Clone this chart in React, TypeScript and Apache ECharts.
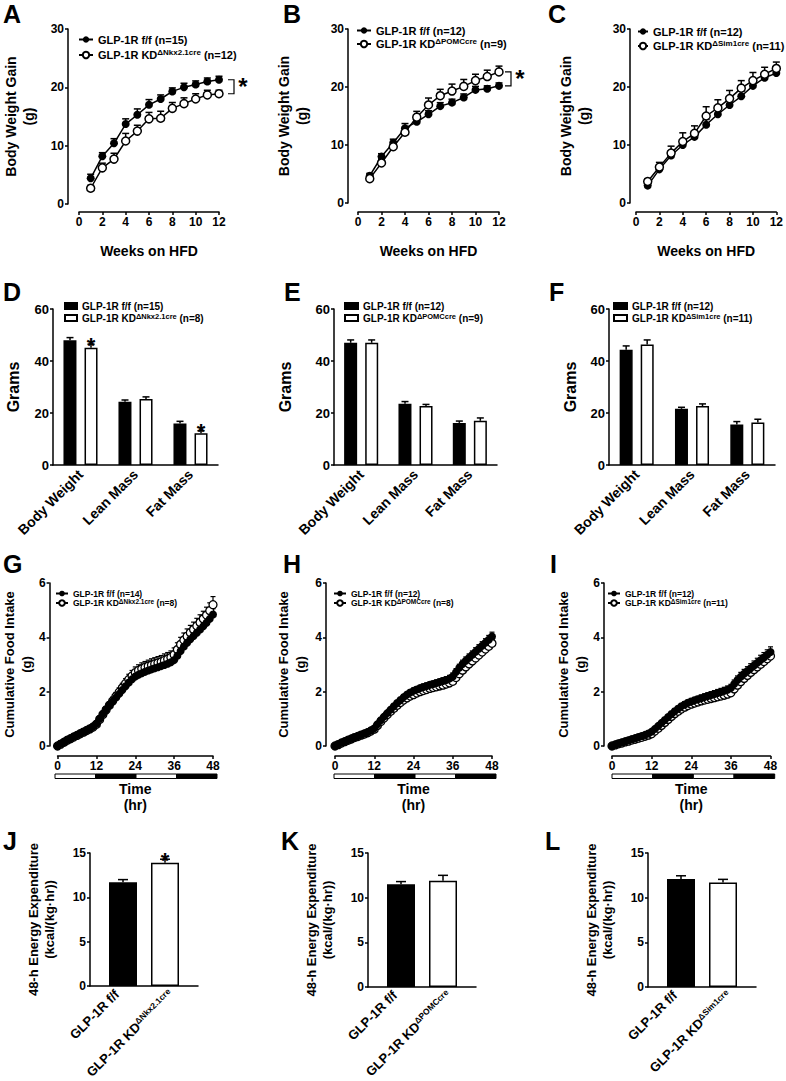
import React, { useEffect, useRef } from 'react';
import * as echarts from 'echarts';

const FONT = 'Liberation Sans';

// ---------- A/B/C : body weight gain ----------
const weeks = [1, 2, 3, 4, 5, 6, 7, 8, 9, 10, 11, 12];
const aFlox = [4.4, 8.2, 10.4, 13.7, 15.3, 17.0, 18.0, 19.3, 20.0, 20.5, 21.0, 21.3];
const aFloxErr = [0.7, 0.6, 0.8, 0.9, 1.0, 0.9, 0.7, 0.6, 0.7, 0.6, 0.6, 0.6];
const aKD = [2.7, 6.2, 7.7, 10.8, 12.5, 14.6, 14.7, 16.4, 17.2, 18.0, 18.7, 18.9];
const aKDErr = [0.5, 0.8, 1.0, 1.3, 1.0, 1.1, 1.2, 1.0, 1.0, 0.9, 0.8, 0.6];
const bFlox = [4.7, 8.0, 10.4, 12.9, 14.0, 15.3, 16.7, 17.3, 18.2, 19.5, 19.7, 20.2];
const bFloxErr = [0.4, 0.5, 0.6, 0.8, 0.6, 0.6, 0.6, 0.6, 0.6, 0.6, 0.5, 0.5];
const bKD = [4.2, 6.9, 9.7, 12.2, 14.8, 16.9, 18.5, 19.3, 20.1, 21.1, 21.8, 22.6];
const bKDErr = [0.4, 0.6, 0.6, 0.8, 1.0, 1.2, 1.1, 1.2, 1.2, 1.1, 1.1, 1.0];
const cFlox = [3.0, 5.8, 8.2, 10.0, 11.4, 13.5, 15.3, 16.9, 18.4, 20.2, 21.6, 22.4];
const cFloxErr = [0.4, 0.6, 0.7, 0.7, 0.8, 0.9, 0.9, 0.9, 0.9, 0.8, 0.8, 0.8];
const cKD = [3.7, 6.2, 8.6, 10.6, 12.0, 15.0, 16.4, 18.0, 19.8, 21.1, 22.2, 23.2];
const cKDErr = [0.5, 0.8, 1.2, 1.5, 1.3, 1.6, 1.4, 1.4, 1.3, 1.4, 1.2, 1.1];

// ---------- D/E/F : body composition ----------
const compCats = ['Body Weight', 'Lean Mass', 'Fat Mass'];
const dFlox = [48.0, 24.3, 16.0];
const dFloxErr = [1.0, 0.7, 0.8];
const dKD = [45.1, 25.4, 12.2];
const dKDErr = [1.4, 0.8, 1.0];
const dKDSig = [1, 0, 1];
const eFlox = [47.0, 23.6, 16.2];
const eFloxErr = [1.1, 0.8, 0.7];
const eKD = [47.0, 22.7, 17.0];
const eKDErr = [1.1, 0.6, 1.1];
const fFlox = [44.3, 21.6, 15.6];
const fFloxErr = [1.5, 0.6, 1.1];
const fKD = [46.3, 22.7, 16.3];
const fKDErr = [1.8, 0.8, 1.3];

// ---------- G/H/I : cumulative food intake ----------
const hours = [0, 1, 2, 3, 4, 5, 6, 7, 8, 9, 10, 11, 12, 13, 14, 15, 16, 17, 18, 19, 20, 21, 22, 23, 24,
  25, 26, 27, 28, 29, 30, 31, 32, 33, 34, 35, 36, 37, 38, 39, 40, 41, 42, 43, 44, 45, 46, 47, 48];
const gFlox = [0, 0.08, 0.15, 0.22, 0.28, 0.34, 0.40, 0.46, 0.52, 0.58, 0.64, 0.72, 0.82,
  1.00, 1.18, 1.34, 1.50, 1.64, 1.78, 1.92, 2.06, 2.20, 2.34, 2.46, 2.56,
  2.62, 2.68, 2.73, 2.78, 2.82, 2.86, 2.90, 2.94, 2.98, 3.03, 3.08, 3.16,
  3.32, 3.50, 3.66, 3.80, 3.93, 4.05, 4.17, 4.29, 4.41, 4.54, 4.68, 4.84];
const gFloxErr = [0, 0.02, 0.03, 0.03, 0.04, 0.04, 0.05, 0.05, 0.05, 0.06, 0.06, 0.06, 0.07,
  0.08, 0.08, 0.09, 0.09, 0.10, 0.10, 0.11, 0.11, 0.12, 0.12, 0.12, 0.13,
  0.13, 0.13, 0.14, 0.14, 0.14, 0.14, 0.15, 0.15, 0.15, 0.15, 0.16, 0.16,
  0.17, 0.17, 0.18, 0.18, 0.18, 0.19, 0.19, 0.19, 0.20, 0.20, 0.20, 0.21];
const gKD = [0, 0.07, 0.14, 0.21, 0.27, 0.33, 0.39, 0.45, 0.51, 0.57, 0.63, 0.70, 0.80,
  0.98, 1.16, 1.33, 1.50, 1.66, 1.82, 1.98, 2.14, 2.30, 2.45, 2.58, 2.70,
  2.78, 2.84, 2.89, 2.94, 2.98, 3.02, 3.06, 3.10, 3.15, 3.20, 3.26, 3.36,
  3.55, 3.74, 3.90, 4.04, 4.17, 4.29, 4.42, 4.55, 4.68, 4.82, 4.98, 5.20];
const gKDErr = [0, 0.03, 0.04, 0.05, 0.05, 0.06, 0.06, 0.07, 0.07, 0.08, 0.08, 0.09, 0.09,
  0.10, 0.11, 0.12, 0.13, 0.14, 0.15, 0.16, 0.17, 0.18, 0.19, 0.20, 0.21,
  0.21, 0.22, 0.22, 0.22, 0.23, 0.23, 0.23, 0.23, 0.24, 0.24, 0.24, 0.25,
  0.25, 0.26, 0.26, 0.27, 0.27, 0.27, 0.28, 0.28, 0.28, 0.29, 0.29, 0.30];
const hFlox = [0, 0.06, 0.12, 0.17, 0.22, 0.27, 0.32, 0.37, 0.41, 0.46, 0.51, 0.57, 0.65,
  0.80, 0.95, 1.08, 1.21, 1.34, 1.46, 1.58, 1.69, 1.80, 1.89, 1.97, 2.03,
  2.08, 2.13, 2.17, 2.21, 2.25, 2.28, 2.32, 2.35, 2.39, 2.43, 2.48, 2.56,
  2.72, 2.88, 3.02, 3.14, 3.25, 3.36, 3.47, 3.58, 3.69, 3.80, 3.91, 4.03];
const hFloxErr = [0, 0.01, 0.02, 0.02, 0.03, 0.03, 0.03, 0.04, 0.04, 0.04, 0.05, 0.05, 0.05,
  0.06, 0.06, 0.07, 0.07, 0.08, 0.08, 0.08, 0.09, 0.09, 0.09, 0.10, 0.10,
  0.10, 0.10, 0.11, 0.11, 0.11, 0.11, 0.11, 0.12, 0.12, 0.12, 0.12, 0.13,
  0.13, 0.13, 0.14, 0.14, 0.14, 0.14, 0.15, 0.15, 0.15, 0.15, 0.16, 0.16];
const hKD = [0, 0.05, 0.11, 0.16, 0.21, 0.26, 0.31, 0.35, 0.40, 0.44, 0.49, 0.55, 0.62,
  0.76, 0.90, 1.03, 1.16, 1.28, 1.39, 1.50, 1.60, 1.69, 1.77, 1.84, 1.89,
  1.95, 2.00, 2.04, 2.08, 2.12, 2.15, 2.18, 2.21, 2.24, 2.28, 2.32, 2.38,
  2.52, 2.66, 2.79, 2.91, 3.02, 3.13, 3.24, 3.35, 3.46, 3.57, 3.67, 3.78];
const hKDErr = [0, 0.01, 0.02, 0.02, 0.02, 0.03, 0.03, 0.03, 0.03, 0.04, 0.04, 0.04, 0.05,
  0.05, 0.05, 0.06, 0.06, 0.06, 0.07, 0.07, 0.07, 0.08, 0.08, 0.08, 0.08,
  0.09, 0.09, 0.09, 0.09, 0.09, 0.10, 0.10, 0.10, 0.10, 0.10, 0.11, 0.11,
  0.11, 0.11, 0.12, 0.12, 0.12, 0.12, 0.13, 0.13, 0.13, 0.13, 0.14, 0.14];
const iFlox = [0, 0.05, 0.09, 0.13, 0.17, 0.21, 0.25, 0.29, 0.33, 0.37, 0.41, 0.46, 0.53,
  0.63, 0.74, 0.85, 0.96, 1.07, 1.18, 1.28, 1.37, 1.46, 1.53, 1.59, 1.64,
  1.68, 1.72, 1.76, 1.80, 1.84, 1.88, 1.91, 1.95, 1.99, 2.03, 2.07, 2.13,
  2.28, 2.43, 2.55, 2.66, 2.76, 2.86, 2.96, 3.06, 3.16, 3.26, 3.36, 3.46];
const iFloxErr = [0, 0.01, 0.02, 0.02, 0.03, 0.03, 0.03, 0.04, 0.04, 0.04, 0.05, 0.05, 0.05,
  0.06, 0.06, 0.07, 0.07, 0.08, 0.08, 0.09, 0.09, 0.10, 0.10, 0.10, 0.11,
  0.11, 0.11, 0.12, 0.12, 0.12, 0.12, 0.13, 0.13, 0.13, 0.13, 0.14, 0.14,
  0.15, 0.15, 0.16, 0.16, 0.16, 0.17, 0.17, 0.17, 0.18, 0.18, 0.18, 0.19];
const iKD = [0, 0.04, 0.08, 0.11, 0.15, 0.18, 0.22, 0.25, 0.29, 0.32, 0.36, 0.40, 0.45,
  0.55, 0.65, 0.76, 0.87, 0.98, 1.09, 1.19, 1.28, 1.36, 1.43, 1.49, 1.54,
  1.58, 1.62, 1.66, 1.69, 1.72, 1.75, 1.78, 1.81, 1.84, 1.87, 1.91, 1.96,
  2.10, 2.24, 2.37, 2.49, 2.60, 2.71, 2.81, 2.91, 3.01, 3.11, 3.21, 3.31];
const iKDErr = [0, 0.01, 0.01, 0.02, 0.02, 0.02, 0.03, 0.03, 0.03, 0.03, 0.04, 0.04, 0.04,
  0.05, 0.05, 0.05, 0.06, 0.06, 0.06, 0.07, 0.07, 0.07, 0.08, 0.08, 0.08,
  0.08, 0.09, 0.09, 0.09, 0.09, 0.09, 0.10, 0.10, 0.10, 0.10, 0.10, 0.11,
  0.11, 0.11, 0.11, 0.12, 0.12, 0.12, 0.12, 0.13, 0.13, 0.13, 0.13, 0.14];
// light/dark cycle: [start hr, end hr, dark?]
const lightDark = [[0, 12, 0], [12, 24, 1], [24, 36, 0], [36, 48, 1]];

// ---------- J/K/L : energy expenditure ----------
const eeCats = ['GLP-1R f/f', 'GLP-1R KD'];
const jVals = [11.7, 13.9];
const jErr = [0.3, 0.4];
const jSig = [0, 1];
const kVals = [11.5, 11.9];
const kErr = [0.3, 0.6];
const lVals = [12.1, 11.7];
const lErr = [0.35, 0.35];

const supNkx = '\u0394Nkx2.1cre';
const supPomc = '\u0394POMCcre';
const supSim = '\u0394Sim1cre';

function buildOption() {
  const grid: any[] = [];
  const xAxis: any[] = [];
  const yAxis: any[] = [];
  const series: any[] = [];
  const legend: any[] = [];
  const graphic: any[] = [];
  const labelMap: Record<string, string> = {};

  const lineSt = { color: '#000', width: 1.5 };
  const axisLine = { show: true, onZero: false, lineStyle: lineSt };
  const tick = (len = 3) => ({ show: true, length: len, lineStyle: lineSt });
  const tickLabel = (fs: number, margin: number) => ({ fontFamily: FONT, fontWeight: 'bold', fontSize: fs, color: '#000', margin });
  const nameStyle = (fs: number, lh: number) => ({ fontFamily: FONT, fontWeight: 'bold', fontSize: fs, lineHeight: lh, color: '#000' });
  const rich = (fs: number, lh: number, ss: number) => ({
    m: { fontFamily: FONT, fontWeight: 'bold', fontSize: fs, lineHeight: lh, color: '#000' },
    s: { fontFamily: FONT, fontWeight: 'bold', fontSize: ss, lineHeight: ss, color: '#000', verticalAlign: 'top' },
  });
  const letter = (t: string, x: number, y: number) =>
    graphic.push({ type: 'text', left: x, top: y, style: { text: t, font: `bold 25px "${FONT}"`, fill: '#000' } });
  const addGrid = (g: any) => { grid.push(g); return grid.length - 1; };
  const addLegend = (names: string[], labels: string[], cfg: any) => {
    names.forEach((n, i) => { labelMap[n] = labels[i]; });
    legend.push({
      orient: 'vertical', left: cfg.left, top: cfg.top, padding: 0, itemGap: cfg.gap,
      itemWidth: cfg.iw, itemHeight: cfg.ih, selectedMode: false, data: names,
      icon: cfg.icon, formatter: (n: string) => labelMap[n],
      textStyle: { fontFamily: FONT, fontWeight: 'bold', fontSize: cfg.fs, color: '#000', rich: rich(cfg.fs, cfg.lh, cfg.ss) },
    });
  };
  const errSeries = (ai: number, pts: number[][], dx: number, cap: number, z: number, lw = 1.5) => ({
    type: 'custom', xAxisIndex: ai, yAxisIndex: ai, z, silent: true, clip: false,
    data: pts, encode: { x: 0, y: 1 },
    renderItem: (_p: any, api: any) => {
      const x = api.value(0), y = api.value(1), e = api.value(2), s = api.value(3);
      const p0 = api.coord([x, y]);
      const p1 = api.coord([x, y + e]);
      const cx = p0[0] + dx;
      const st = { stroke: '#000', lineWidth: lw };
      const ch: any[] = [
        { type: 'line', shape: { x1: cx, y1: p0[1], x2: cx, y2: p1[1] }, style: st },
        { type: 'line', shape: { x1: cx - cap, y1: p1[1], x2: cx + cap, y2: p1[1] }, style: st },
      ];
      if (s) ch.push({
        type: 'text', x: cx, y: p1[1] + 12,
        style: { text: '*', fill: '#000', font: `bold 22px "${FONT}"`, align: 'center', verticalAlign: 'bottom', textAlign: 'center', textVerticalAlign: 'bottom' },
      });
      return { type: 'group', children: ch };
    },
  });
  const bracketSeries = (ai: number, pts: number[][], dxArm: number, dxV: number, dxStar: number) => ({
    type: 'custom', xAxisIndex: ai, yAxisIndex: ai, z: 3, silent: true, clip: false,
    data: pts, encode: { x: 0, y: 1 },
    renderItem: (_p: any, api: any) => {
      const x = api.value(0), t = api.value(1), b = api.value(2);
      const pt = api.coord([x, t]);
      const pb = api.coord([x, b]);
      const vx = pt[0] + dxV;
      return {
        type: 'group', children: [
          { type: 'polyline', shape: { points: [[pt[0] + dxArm, pt[1]], [vx, pt[1]], [vx, pb[1]], [pt[0] + dxArm, pb[1]]] }, style: { stroke: '#000', lineWidth: 1.2, fill: null } },
          { type: 'text', x: vx + dxStar, y: (pt[1] + pb[1]) / 2 + 12, style: { text: '*', fill: '#000', font: `bold 24px "${FONT}"`, align: 'center', verticalAlign: 'bottom', textAlign: 'center', textVerticalAlign: 'bottom' } },
        ],
      };
    },
  });

  // ---------- weight gain panels ----------
  const wgPanel = (p: any) => {
    const gi = addGrid(p.grid);
    xAxis.push({
      type: 'value', gridIndex: gi, min: 0, max: 12, interval: 2, offset: p.xOff,
      axisLine, axisTick: tick(3), axisLabel: tickLabel(12, 4), splitLine: { show: false },
      name: 'Weeks on HFD', nameLocation: 'middle', nameGap: 31, nameTextStyle: nameStyle(14, 16),
    });
    yAxis.push({
      type: 'value', gridIndex: gi, min: 0, max: 30, interval: 10, offset: p.yOff,
      axisLine, axisTick: tick(3), axisLabel: tickLabel(12, 4), splitLine: { show: false },
      name: 'Body Weight Gain\n(g)', nameLocation: 'middle', nameGap: p.nameGap, nameTextStyle: nameStyle(14, 18),
    });
    const n1 = p.key + ':flox', n2 = p.key + ':kd';
    series.push(errSeries(gi, weeks.map((w, i) => [w, p.flox[i], p.floxErr[i], 0]), 0, 3.5, 1));
    series.push(errSeries(gi, weeks.map((w, i) => [w, p.kd[i], p.kdErr[i], 0]), 0, 3.5, 1));
    series.push({
      type: 'line', name: n1, xAxisIndex: gi, yAxisIndex: gi, data: weeks.map((w, i) => [w, p.flox[i]]),
      symbol: 'circle', symbolSize: 8, itemStyle: { color: '#000' }, lineStyle: { color: '#000', width: 1.5 }, z: 2,
    });
    series.push({
      type: 'line', name: n2, xAxisIndex: gi, yAxisIndex: gi, data: weeks.map((w, i) => [w, p.kd[i]]),
      symbol: 'circle', symbolSize: 8, itemStyle: { color: '#fff', borderColor: '#000', borderWidth: 1.5 }, lineStyle: { color: '#000', width: 1.5 }, z: 3,
    });
    if (p.bracket) series.push(bracketSeries(gi, [[12, p.bracket[0], p.bracket[1]]], p.br[0], p.br[1], p.br[2]));
    addLegend([n1, n2], [`{m|GLP-1R f/f (n=${p.nF})}`, `{m|GLP-1R KD}{s|${p.sup}}{m| (n=${p.nK})}`], p.leg);
    letter(p.key, p.letter[0], p.letter[1]);
  };

  wgPanel({
    key: 'A', grid: { left: 79, top: 29, width: 140, height: 175 }, xOff: 8, yOff: 11, nameGap: 30,
    flox: aFlox, floxErr: aFloxErr, kd: aKD, kdErr: aKDErr, nF: 15, nK: 12, sup: supNkx,
    bracket: [aFlox[11], aKD[11]], br: [9, 15, 9],
    leg: { left: 78, top: 34, gap: 3, iw: 14, ih: 8, fs: 11, lh: 14, ss: 8 }, letter: [3, 1],
  });
  wgPanel({
    key: 'B', grid: { left: 358, top: 29, width: 141, height: 174 }, xOff: 9, yOff: 10, nameGap: 37,
    flox: bFlox, floxErr: bFloxErr, kd: bKD, kdErr: bKDErr, nF: 12, nK: 9, sup: supPomc,
    bracket: [bKD[11], bFlox[11]], br: [6, 12, 9],
    leg: { left: 356, top: 25, gap: 1, iw: 14, ih: 8, fs: 11, lh: 14, ss: 8 }, letter: [283, 1],
  });
  wgPanel({
    key: 'C', grid: { left: 636, top: 29, width: 141, height: 174 }, xOff: 9, yOff: 6, nameGap: 37,
    flox: cFlox, floxErr: cFloxErr, kd: cKD, kdErr: cKDErr, nF: 12, nK: 11, sup: supSim,
    leg: { left: 637, top: 26, gap: 2, iw: 10, ih: 8, fs: 11, lh: 14, ss: 8 }, letter: [548, 1],
  });

  // ---------- composition bar panels ----------
  const compPanel = (p: any) => {
    const gi = addGrid(p.grid);
    xAxis.push({
      type: 'category', gridIndex: gi, data: compCats, axisLine: { ...axisLine, onZero: true },
      axisTick: { show: false }, axisLabel: { ...tickLabel(14, 7), rotate: 45, interval: 0 }, splitLine: { show: false },
    });
    yAxis.push({
      type: 'value', gridIndex: gi, min: 0, max: 60, interval: 20, offset: 0,
      axisLine, axisTick: tick(3), axisLabel: tickLabel(13, 4), splitLine: { show: false },
      name: 'Grams', nameLocation: 'middle', nameGap: p.nameGap, nameTextStyle: nameStyle(16, 18),
    });
    const n1 = p.key + ':flox', n2 = p.key + ':kd';
    series.push({
      type: 'bar', name: n1, xAxisIndex: gi, yAxisIndex: gi, data: p.flox, barWidth: 13, barGap: '62%',
      itemStyle: { color: '#000', borderColor: '#000', borderWidth: 1.5 }, z: 2,
    });
    series.push({
      type: 'bar', name: n2, xAxisIndex: gi, yAxisIndex: gi, data: p.kd, barWidth: 13, barGap: '62%',
      itemStyle: { color: '#fff', borderColor: '#000', borderWidth: 1.5 }, z: 2,
    });
    series.push(errSeries(gi, p.flox.map((v: number, i: number) => [i, v, p.floxErr[i], 0]), -10.5, 3.5, 3));
    series.push(errSeries(gi, p.kd.map((v: number, i: number) => [i, v, p.kdErr[i], p.sig ? p.sig[i] : 0]), 10.5, 3.5, 3));
    addLegend([n1, n2], [`{m|GLP-1R f/f (n=${p.nF})}`, `{m|GLP-1R KD}{s|${p.sup}}{m| (n=${p.nK})}`], p.leg);
    letter(p.key, p.letter[0], p.letter[1]);
  };
  compPanel({
    key: 'D', grid: { left: 53, top: 309, width: 165, height: 156 }, nameGap: 31,
    flox: dFlox, floxErr: dFloxErr, kd: dKD, kdErr: dKDErr, sig: dKDSig, nF: 15, nK: 8, sup: supNkx,
    leg: { left: 64, top: 301, gap: 1, iw: 12, ih: 6, fs: 10, lh: 12, ss: 7.5, icon: 'rect' }, letter: [3, 279],
  });
  compPanel({
    key: 'E', grid: { left: 334, top: 309, width: 163, height: 156 }, nameGap: 40,
    flox: eFlox, floxErr: eFloxErr, kd: eKD, kdErr: eKDErr, nF: 12, nK: 9, sup: supPomc,
    leg: { left: 344, top: 301, gap: 1, iw: 13, ih: 6, fs: 10, lh: 12, ss: 7.5, icon: 'rect' }, letter: [284, 279],
  });
  compPanel({
    key: 'F', grid: { left: 609, top: 309, width: 166, height: 156 }, nameGap: 30,
    flox: fFlox, floxErr: fFloxErr, kd: fKD, kdErr: fKDErr, nF: 12, nK: 11, sup: supSim,
    leg: { left: 613, top: 301, gap: 1, iw: 13, ih: 6, fs: 10, lh: 12, ss: 7.5, icon: 'rect' }, letter: [549, 279],
  });

  // ---------- food intake panels ----------
  const foodPanel = (p: any) => {
    const gi = addGrid(p.grid);
    xAxis.push({
      type: 'value', gridIndex: gi, min: 0, max: 48, interval: 12, offset: p.xOff,
      axisLine, axisTick: tick(3), axisLabel: tickLabel(12, 4), splitLine: { show: false },
      name: 'Time\n(hr)', nameLocation: 'middle', nameGap: 25, nameTextStyle: nameStyle(14, 16),
    });
    yAxis.push({
      type: 'value', gridIndex: gi, min: 0, max: 6, interval: 2, offset: p.yOff,
      axisLine, axisTick: tick(3), axisLabel: tickLabel(12, 4), splitLine: { show: false },
      name: 'Cumulative Food Intake\n(g)', nameLocation: 'middle', nameGap: p.nameGap, nameTextStyle: nameStyle(13, 17),
    });
    const n1 = p.key + ':flox', n2 = p.key + ':kd';
    series.push(errSeries(gi, hours.map((h, i) => [h, p.kd[i], p.kdErr[i], 0]), 0, 2.5, 1, 1.2));
    series.push(errSeries(gi, hours.map((h, i) => [h, p.flox[i], p.floxErr[i], 0]), 0, 2.5, 1, 1.2));
    series.push({
      type: 'line', name: n1, xAxisIndex: gi, yAxisIndex: gi, data: hours.map((h, i) => [h, p.flox[i]]),
      symbol: 'circle', symbolSize: 8, itemStyle: { color: '#000' }, lineStyle: { color: '#000', width: 1.5 }, z: 3,
    });
    series.push({
      type: 'line', name: n2, xAxisIndex: gi, yAxisIndex: gi, data: hours.map((h, i) => [h, p.kd[i]]),
      symbol: 'circle', symbolSize: 8, itemStyle: { color: '#fff', borderColor: '#000', borderWidth: 1.3 }, lineStyle: { color: '#000', width: 1.5 }, z: 2,
    });
    // light/dark bar
    const bi = addGrid(p.barGrid);
    xAxis.push({ type: 'value', gridIndex: bi, min: 0, max: 48, show: false });
    yAxis.push({ type: 'value', gridIndex: bi, min: 0, max: 1, show: false });
    series.push({
      type: 'custom', xAxisIndex: bi, yAxisIndex: bi, silent: true, clip: false, data: lightDark,
      renderItem: (_p: any, api: any) => {
        const a = api.coord([api.value(0), 1]);
        const b = api.coord([api.value(1), 0]);
        return {
          type: 'rect', shape: { x: a[0], y: a[1], width: b[0] - a[0], height: b[1] - a[1] },
          style: { fill: api.value(2) ? '#000' : '#fff', stroke: '#000', lineWidth: 1 },
        };
      },
    });
    addLegend([n1, n2], [`{m|GLP-1R f/f (n=${p.nF})}`, `{m|GLP-1R KD}{s|${p.sup}}{m| (n=${p.nK})}`], p.leg);
    letter(p.key, p.letter[0], p.letter[1]);
  };
  foodPanel({
    key: 'G', grid: { left: 56, top: 583, width: 157, height: 163 }, xOff: 10, yOff: 8, nameGap: 14,
    barGrid: { left: 55, top: 774, width: 162, height: 4.5 },
    flox: gFlox, floxErr: gFloxErr, kd: gKD, kdErr: gKDErr, nF: 14, nK: 8, sup: supNkx,
    leg: { left: 55, top: 589, gap: 0, iw: 12, ih: 7, fs: 8.5, lh: 10, ss: 6.5 }, letter: [3, 551],
  });
  foodPanel({
    key: 'H', grid: { left: 335, top: 583, width: 157, height: 163 }, xOff: 10, yOff: 9, nameGap: 17,
    barGrid: { left: 334, top: 774, width: 162, height: 4.5 },
    flox: hFlox, floxErr: hFloxErr, kd: hKD, kdErr: hKDErr, nF: 12, nK: 8, sup: supPomc,
    leg: { left: 333, top: 589, gap: 0, iw: 12, ih: 7, fs: 8.5, lh: 10, ss: 6.5 }, letter: [283, 551],
  });
  foodPanel({
    key: 'I', grid: { left: 612, top: 583, width: 158.5, height: 163 }, xOff: 10, yOff: 8, nameGap: 13,
    barGrid: { left: 612, top: 774, width: 162.7, height: 4.5 },
    flox: iFlox, floxErr: iFloxErr, kd: iKD, kdErr: iKDErr, nF: 12, nK: 11, sup: supSim,
    leg: { left: 607, top: 589, gap: 0, iw: 12, ih: 7, fs: 8.5, lh: 10, ss: 6.5 }, letter: [550, 551],
  });

  // ---------- energy expenditure panels ----------
  const eePanel = (p: any) => {
    const gi = addGrid(p.grid);
    xAxis.push({
      type: 'category', gridIndex: gi, data: eeCats, axisLine: { ...axisLine, onZero: true }, axisTick: { show: false },
      splitLine: { show: false },
      axisLabel: {
        ...tickLabel(13, 6), rotate: 45, interval: 0,
        rich: rich(13, 15, 8.5),
        formatter: (v: string) => (v === eeCats[1] ? `{m|${v}}{s|${p.sup}}` : `{m|${v}}`),
      },
    });
    yAxis.push({
      type: 'value', gridIndex: gi, min: 0, max: 15, interval: 5,
      axisLine, axisTick: tick(3), axisLabel: tickLabel(12, 4), splitLine: { show: false },
      name: '48-h Energy Expenditure\n(kcal/(kg\u00b7hr))', nameLocation: 'middle', nameGap: 33, nameTextStyle: nameStyle(13, 16),
    });
    series.push({
      type: 'bar', name: p.key + ':flox', xAxisIndex: gi, yAxisIndex: gi, data: [p.vals[0], '-'], barWidth: 28, barGap: '-142.86%',
      itemStyle: { color: '#000', borderColor: '#000', borderWidth: 1.5 }, z: 2,
    });
    series.push({
      type: 'bar', name: p.key + ':kd', xAxisIndex: gi, yAxisIndex: gi, data: ['-', p.vals[1]], barWidth: 28, barGap: '-142.86%',
      itemStyle: { color: '#fff', borderColor: '#000', borderWidth: 1.5 }, z: 2,
    });
    series.push(errSeries(gi, [[0, p.vals[0], p.err[0], p.sig ? p.sig[0] : 0]], 6, 5, 3));
    series.push(errSeries(gi, [[1, p.vals[1], p.err[1], p.sig ? p.sig[1] : 0]], -6, 5, 3));
    letter(p.key, p.letter[0], p.letter[1]);
  };
  eePanel({ key: 'J', grid: { left: 90, top: 853, width: 108, height: 134 }, vals: jVals, err: jErr, sig: jSig, sup: supNkx, letter: [3, 828] });
  eePanel({ key: 'K', grid: { left: 368, top: 853, width: 108, height: 134 }, vals: kVals, err: kErr, sup: supPomc, letter: [281, 828] });
  eePanel({ key: 'L', grid: { left: 648, top: 853, width: 108, height: 134 }, vals: lVals, err: lErr, sup: supSim, letter: [545, 828] });

  return {
    animation: false,
    backgroundColor: '#fff',
    textStyle: { fontFamily: FONT },
    grid, xAxis, yAxis, series, legend, graphic,
  };
}

export default function App() {
  const ref = useRef<HTMLDivElement>(null);
  useEffect(() => {
    if (!ref.current) return;
    const chart = echarts.init(ref.current, null, { renderer: 'svg' });
    chart.setOption(buildOption() as any);
    return () => chart.dispose();
  }, []);
  return <div ref={ref} style={{ position: 'absolute', left: 0, top: 0, width: 786, height: 1081, background: '#fff' }} />;
}
